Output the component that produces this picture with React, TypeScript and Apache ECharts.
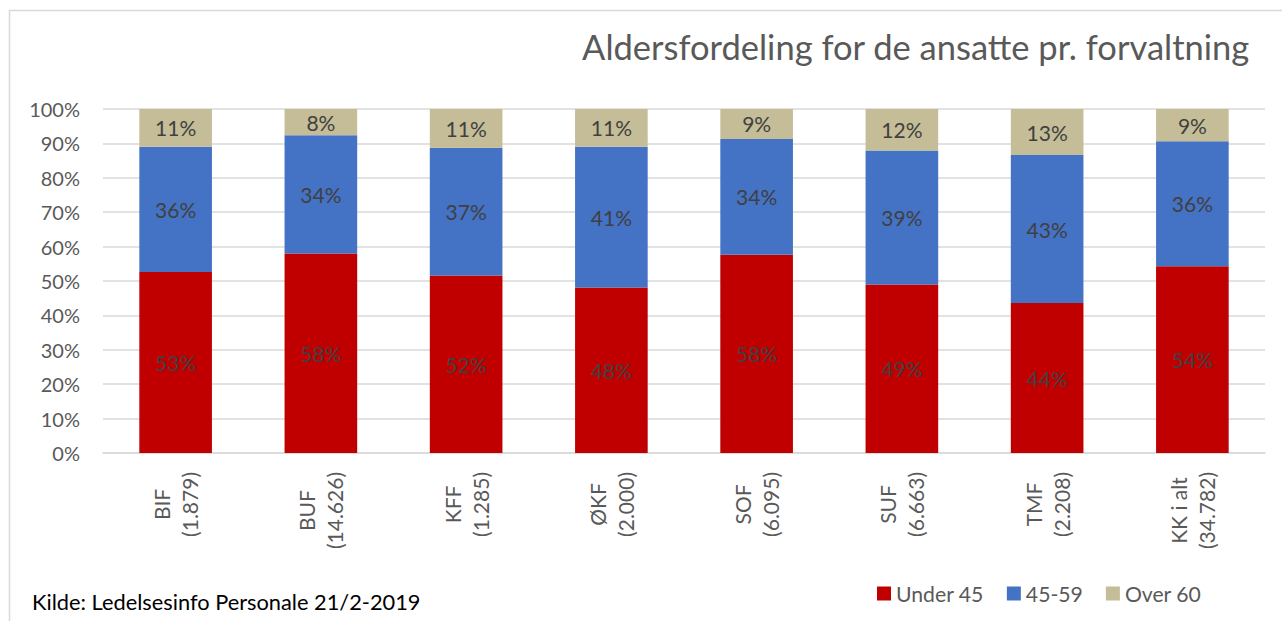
import React, { useEffect, useRef } from "react";
import * as echarts from "echarts";

const categories = ["BIF", "BUF", "KFF", "ØKF", "SOF", "SUF", "TMF", "KK i alt"];
const counts = ["1.879", "14.626", "1.285", "2.000", "6.095", "6.663", "2.208", "34.782"];
const seriesNames = ["Under 45", "45-59", "Over 60"];
const under45 = [52.6, 58.0, 51.6, 48.1, 57.6, 49.0, 43.6, 54.3];
const age45to59 = [36.4, 34.4, 37.1, 40.9, 33.7, 38.9, 43.0, 36.3];
const over60 = [11.0, 7.6, 11.3, 11.0, 8.7, 12.1, 13.4, 9.4];
const yTicks = { min: 0, max: 100, interval: 10 };

const titleText = "Aldersfordeling for de ansatte pr. forvaltning";
const sourceText = "Kilde: Ledelsesinfo Personale 21/2-2019";

const FONT = "Lato, 'Open Sans', sans-serif";
const colors = ["#C00000", "#4472C4", "#C4BD97"];

export default function App() {
  const ref = useRef<HTMLDivElement>(null);
  useEffect(() => {
    if (!ref.current) return;
    const chart = echarts.init(ref.current, null, { renderer: "svg" });
    const values = [under45, age45to59, over60];
    chart.setOption({
      animation: false,
      backgroundColor: "#ffffff",
      color: colors,
      textStyle: { fontFamily: FONT },
      title: {
        text: titleText,
        right: 27,
        top: 24,
        textStyle: { fontFamily: FONT, fontSize: 34.5, fontWeight: "normal", color: "#595959" },
      },
      graphic: [
        {
          type: "rect",
          shape: { x: 9.5, y: 10.5, width: 1400, height: 800 },
          style: { fill: "none", stroke: "#D9D9D9", lineWidth: 1.5 },
          silent: true,
        },
        {
          type: "text",
          left: 32,
          top: 590,
          style: { text: sourceText, fontFamily: FONT, fontSize: 21.8, fill: "#000000" },
        },
      ],
      legend: {
        data: seriesNames,
        left: 872,
        top: 578,
        icon: "rect",
        itemWidth: 14,
        itemHeight: 14,
        itemGap: 23,
        textStyle: { fontFamily: FONT, fontSize: 21.2, color: "#595959" },
      },
      grid: { left: 103, right: 17, top: 109, bottom: 168, containLabel: false },
      xAxis: {
        type: "category",
        data: categories,
        axisLine: { lineStyle: { color: "#D9D9D9", width: 1.5 } },
        axisTick: { show: false },
        axisLabel: {
          interval: 0,
          rotate: 90,
          margin: 19,
          formatter: (v: string, i: number) => `{a|${v}}\n{a|(${counts[i]})}`,
          rich: {
            a: { align: "center", fontFamily: FONT, fontSize: 21, lineHeight: 28, color: "#595959" },
          },
        },
      },
      yAxis: {
        type: "value",
        min: yTicks.min,
        max: yTicks.max,
        interval: yTicks.interval,
        axisLine: { show: false },
        axisTick: { show: false },
        splitLine: { lineStyle: { color: "#D9D9D9", width: 1.5 } },
        axisLabel: {
          formatter: (v: number) => `${v}%`,
          margin: 23,
          fontFamily: FONT,
          fontSize: 20,
          color: "#595959",
        },
      },
      series: seriesNames.map((name, k) => ({
        name,
        type: "bar",
        stack: "total",
        barWidth: "50%",
        data: values[k],
        label: {
          show: true,
          position: "inside",
          formatter: (p: any) => `${Math.round(p.value)}%`,
          fontFamily: FONT,
          fontSize: 21,
          color: "#404040",
        },
      })),
    });
    return () => chart.dispose();
  }, []);
  return (
    <div
      ref={ref}
      style={{ position: "fixed", left: 0, top: 0, width: 1282, height: 621 }}
    />
  );
}
